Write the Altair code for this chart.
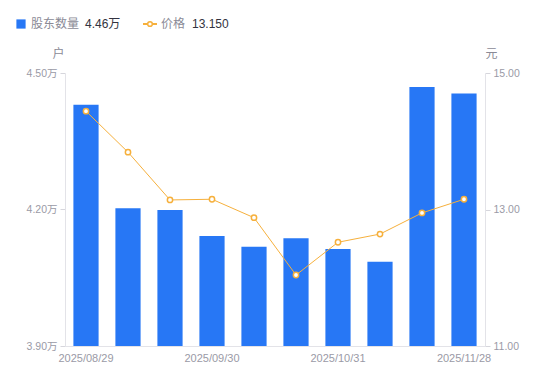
import altair as alt
import pandas as pd

dates = ["2025/08/29", "2025/09/10", "2025/09/19", "2025/09/30", "2025/10/10",
         "2025/10/20", "2025/10/31", "2025/11/10", "2025/11/20", "2025/11/28"]
holders = [4.43, 4.203, 4.199, 4.142, 4.118, 4.137, 4.113, 4.085, 4.469, 4.455]
prices = [14.44, 13.84, 13.14, 13.15, 12.88, 12.04, 12.52, 12.64, 12.95, 13.15]
shown_dates = ["2025/08/29", "2025/09/30", "2025/10/31", "2025/11/28"]

BLUE = "#2777F5"
ORANGE = "#F6B03C"
FONT = "Liberation Sans, Noto Sans CJK SC"

df = pd.DataFrame({"date": dates, "holders": holders, "price": prices})

x = alt.X("date:O", sort=dates,
          scale=alt.Scale(paddingInner=0.4, paddingOuter=0.2),
          axis=alt.Axis(title=None, labelAngle=0, ticks=False, domainColor="#e3e3e8",
                        labelColor="#9a9aa6", labelFontSize=11, labelFont=FONT, labelPadding=6,
                        labelExpr="indexof(" + str(shown_dates) + ", datum.value) >= 0 ? datum.value : ''",
                        labelOverlap=False))

bars = alt.Chart(df).mark_bar(color=BLUE, clip=True).encode(
    x=x,
    y=alt.Y("holders:Q", scale=alt.Scale(domain=[3.9, 4.5], zero=False, nice=False),
            axis=alt.Axis(values=[3.9, 4.2, 4.5], labelExpr="format(datum.value, '.2f') + '万'",
                          grid=False, domainColor="#e3e3e8", tickColor="#d6d6dc", tickSize=5,
                          labelColor="#9a9aa6", labelFontSize=10.5, labelFont=FONT, labelPadding=3,
                          title="户", titleAngle=0, titleX=-7, titleY=-13, titleAlign="center",
                          titleBaseline="bottom", titleColor="#8a8a96", titleFontSize=12,
                          titleFontWeight="normal", titleFont=FONT))
)

line = alt.Chart(df).mark_line(color=ORANGE, strokeWidth=1).encode(
    x=x,
    y=alt.Y("price:Q", scale=alt.Scale(domain=[11, 15], zero=False, nice=False),
            axis=alt.Axis(orient="right", values=[11, 13, 15], format=".2f", grid=False,
                          domainColor="#e3e3e8", tickColor="#d6d6dc", tickSize=5,
                          labelColor="#9a9aa6", labelFontSize=10.5, labelFont=FONT, labelPadding=3,
                          title="元", titleAngle=0, titleX=6, titleY=-13, titleAlign="center",
                          titleBaseline="bottom", titleColor="#8a8a96", titleFontSize=12,
                          titleFontWeight="normal", titleFont=FONT))
)
points = alt.Chart(df).mark_point(filled=True, fill="white", stroke=ORANGE, strokeWidth=1.5,
                                  size=28, opacity=1).encode(
    x=x, y=alt.Y("price:Q", scale=alt.Scale(domain=[11, 15], zero=False, nice=False), axis=None)
)

leg = pd.DataFrame({"hv": [f"{holders[-1]:.2f}万"], "pv": [f"{prices[-1]:.3f}"]})
base = alt.Chart(leg)
sq = base.mark_square(color=BLUE, size=85, opacity=1).encode(x=alt.value(-44), y=alt.value(-49))
t1 = base.mark_text(align="left", baseline="middle", font=FONT, fontSize=12, color="#8a8a96").encode(
    x=alt.value(-34), y=alt.value(-49), text=alt.value("股东数量"))
t2 = base.mark_text(align="left", baseline="middle", font=FONT, fontSize=12, color="#333340").encode(
    x=alt.value(20), y=alt.value(-49), text="hv:N")
lr = base.mark_rule(color=ORANGE, strokeWidth=2).encode(
    x=alt.value(78), x2=alt.value(92), y=alt.value(-49))
lp = base.mark_point(filled=True, fill="white", stroke=ORANGE, strokeWidth=1.5, size=22, opacity=1).encode(
    x=alt.value(85), y=alt.value(-49))
t3 = base.mark_text(align="left", baseline="middle", font=FONT, fontSize=12, color="#8a8a96").encode(
    x=alt.value(96), y=alt.value(-49), text=alt.value("价格"))
t4 = base.mark_text(align="left", baseline="middle", font=FONT, fontSize=12, color="#333340").encode(
    x=alt.value(127), y=alt.value(-49), text="pv:N")

chart = alt.layer(bars, line, points, sq, t1, t2, lr, lp, t3, t4).resolve_scale(
    y="independent"
).properties(
    width=420, height=273,
    autosize=alt.AutoSizeParams(type="none"),
    padding={"left": 57, "top": 65, "right": 57, "bottom": 27},
).configure_view(stroke=None)

chart.save("out.html", embed_options={"renderer": "svg", "actions": False})
